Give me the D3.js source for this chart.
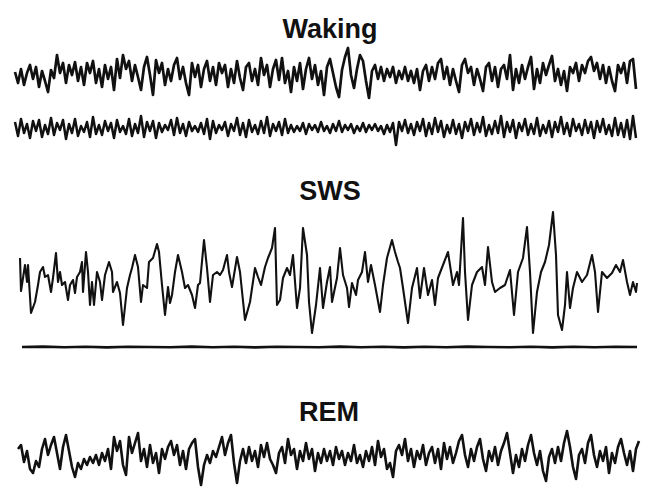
<!DOCTYPE html>
<html>
<head>
<meta charset="utf-8">
<script src="https://cdn.jsdelivr.net/npm/d3@7"></script>
<style>
  body { margin: 0; background: #fff; }
  .stateLabel { font-family: "Liberation Sans", Arial, sans-serif; font-weight: bold; font-size: 27px; fill: #111; }
  .trace { fill: none; stroke: #111; stroke-linejoin: round; }
</style>
</head>
<body>
<div id="chart"></div>
<script>
// Set width and height for SVG object
var svgWidth = 648;
var svgHeight = 492;

// State labels
var stateLabels = ["Waking", "SWS", "REM"];

// Waking EEG, evenly sampled (uV, up is positive)
var wakeEEG = [3, -8, 6, -10, 2, 10, -4, 8, -12, 4, -6, -17, 5, -3, 20, 2, 12, -8, 10, 0,
  13, -6, 8, -10, 12, 2, 14, -8, 6, -12, 10, -4, 8, -15, 16, -3, 20, 6, 14, -6,
  10, -2, -15, 8, 18, 0, -20, 15, 2, 12, -10, 6, -6, 10, 17, -4, 8, -8, -20, 12,
  -2, 10, -12, 6, 14, -6, 8, -10, 12, 2, 10, -12, 6, -8, 14, -3, -15, 8, 12, -6,
  6, -10, 17, 0, 10, -12, 6, 15, -5, 17, -8, 4, -17, 8, -6, 12, -14, 6, 17, -4,
  10, -10, 4, -20, 8, 16, 2, -12, -22, 5, 18, 27, 0, -13, 6, 20, 14, -6, -23, 4,
  10, -4, 8, -6, 6, -2, 8, -8, 4, -4, 8, -6, 4, -8, 6, -15, 4, 10, -6, 8,
  -4, 12, 16, -4, 8, -10, 6, -6, -17, 10, 16, 2, 8, -10, 6, -4, -16, 8, 12, -6,
  8, -12, 6, 10, -4, 20, -15, 6, -8, 10, -4, 8, 18, -14, 6, -8, 12, 0, 10, 19,
  -6, 6, -10, 4, -16, 8, 2, 12, -6, 10, 2, 14, 18, 4, 12, -4, 10, -8, 8, -6,
  -16, 10, 2, 12, -8, 14, 16, -14];

// Waking EMG, evenly sampled
var wakeEMG = [6, -8, 9, -5, 4, -10, 7, -3, 8, -9, 3, -6, 10, -7, 5, -2, 8, -11, 4, -5,
  9, -8, 2, -4, 6, -9, 11, -6, 3, -7, 7, -3, 5, -10, 8, -4, 2, -6, 9, -8,
  4, -5, 12, -9, 6, -3, 7, -10, 5, -4, 3, -2, 8, -7, 10, -5, 4, -8, 6, -3,
  2, -4, 5, -6, 9, -11, 7, -5, 3, -2, 6, -8, 4, -3, 10, -7, 5, -9, 8, -4,
  3, -6, 7, -5, 11, -8, 4, -3, 6, -7, 9, -5, 3, -4, 2, -3, 5, -6, 4, -2,
  3, -4, 6, -3, 2, -5, 4, -3, 7, -4, 3, -2, 4, -5, 2, -3, 5, -4, 3, -2,
  4, -3, 2, -6, 3, -4, 5, -17, 6, -3, 8, -5, 4, -7, 6, -3, 9, -8, 5, -6,
  10, -4, 7, -9, 3, -5, 8, -6, 4, -10, 6, -3, 9, -7, 5, -4, 11, -8, 3, -6,
  7, -5, 12, -9, 6, -4, 8, -10, 5, -3, 9, -7, 4, -6, 10, -8, 3, -5, 7, -9,
  6, -4, 11, -6, 5, -8, 9, -3, 4, -7, 8, -5, 6, -10, 7, -4, 9, -6, 3, -8,
  10, -7, 5, -9, 8, -11, 12, -10];

// SWS EEG as [time, uV] pairs
var swsPoints = [[0, 17], [1, -16], [5, 10], [7, -7], [8, 10], [11, -38], [15, -27], [18, -10], [20, 3], [23, 8],
  [25, -2], [28, 0], [31, -17], [33, -3], [36, 22], [38, -7], [40, 3], [42, -10], [45, -7], [48, -25],
  [50, -10], [53, -5], [55, -18], [57, -2], [60, 3], [62, 13], [63, -17], [66, 23], [68, 3], [70, -30],
  [72, -7], [74, -30], [77, 3], [80, -7], [82, -25], [85, 0], [89, 13], [92, 3], [93, -17], [97, -7],
  [100, -18], [103, -50], [107, -13], [110, 0], [112, 7], [115, 20], [118, 8], [121, -27], [123, -10], [127, -13],
  [129, 13], [133, 17], [137, 31], [139, 23], [142, -10], [145, -40], [148, -12], [150, -28], [152, -20], [155, 3],
  [158, 20], [162, 3], [165, -13], [168, -10], [172, -20], [175, -33], [178, -10], [180, -8], [184, 35], [187, 7],
  [190, -27], [193, 0], [197, 3], [200, 0], [203, 5], [207, 20], [209, 3], [212, -12], [217, 18], [220, 3],
  [225, -45], [230, -27], [235, 7], [238, -2], [241, -10], [245, 8], [248, 17], [252, 27], [255, 47], [257, -30],
  [260, -25], [263, -3], [267, 7], [270, 0], [273, 20], [277, -33], [280, -13], [283, 47], [287, 20], [289, -27],
  [292, -58], [296, -30], [300, 7], [303, -33], [307, -7], [310, 8], [312, -27], [317, -3], [320, 27], [323, 0],
  [327, -13], [329, -32], [332, -8], [336, -20], [338, -5], [342, 3], [345, 23], [348, -7], [351, 10], [355, -10],
  [360, -37], [363, -10], [367, 17], [372, 35], [375, 23], [378, 13], [380, 7], [383, -13], [388, -48], [392, -13],
  [397, 7], [400, -23], [404, 7], [408, -20], [412, -5], [415, -30], [418, -3], [423, 10], [428, 23], [433, -10],
  [437, 3], [439, -10], [443, 57], [445, 3], [448, -45], [452, -10], [457, 3], [462, 8], [465, -10], [468, 28],
  [472, -7], [475, -17], [480, -13], [485, -10], [490, 5], [494, -40], [498, 3], [503, 17], [507, 48], [510, 3],
  [513, -58], [517, -17], [521, 3], [525, 13], [529, 30], [533, 63], [536, 20], [538, -40], [542, -55], [545, -30],
  [547, 3], [550, -33], [553, -13], [557, 3], [562, -7], [567, 0], [572, 20], [575, 3], [578, -37], [582, 3],
  [587, -3], [592, 2], [596, 10], [600, 3], [603, 15], [607, -7], [610, -20], [613, -7], [616, -17], [617, -8]];

// SWS EMG, nearly flat
var swsEMG = [0, 0.4, -0.3, 0.2, -0.4, 0.3, 0, -0.3, 0.4, -0.2, 0.3, -0.4, 0.2, 0, -0.3, 0.4,
  -0.2, 0.3, -0.4, 0.2, -0.3, 0.4, 0, -0.2, 0.3, -0.4, 0.2, -0.3, 0.3, 0];

// REM EEG, evenly sampled
var remEEG = [8, 12, -5, 6, -12, -16, -4, -10, 8, 18, 2, 12, 20, 4, -12, 10, 22, 6, -10, -20,
  -6, -12, -2, -8, 0, -6, 2, -8, 4, -4, 8, -12, 20, 6, 16, -8, -18, 20, 4, 14,
  24, -4, 8, -10, 12, -6, 4, -16, 8, -2, 10, 16, 2, 12, -8, 6, -12, 8, 14, 18,
  -10, -28, -8, 2, -6, 6, 0, 10, 20, 2, 14, 22, -6, -26, -4, 8, -6, 10, -4, 6,
  -10, 12, 0, 14, -2, -8, -16, 4, 10, -6, 18, 2, 8, -12, 6, -4, 14, -2, 8, -14,
  4, -6, 8, -4, 6, -8, 10, -2, 6, -8, 4, -4, 12, -6, 2, -10, 6, -4, 10, -8,
  16, 0, 8, -12, -6, -20, 6, 12, 2, 18, -4, 8, -10, 6, -2, 12, -8, 4, 10, -6,
  8, -12, 14, -2, 10, -6, 4, 16, 22, 2, -10, 8, -4, 10, 18, -2, -14, 6, -4, 10,
  -8, 6, 14, 24, 4, -16, 2, -10, 8, -4, 12, 22, 4, -8, 6, -14, -24, 0, 8, -6,
  10, -4, 14, 26, 10, -10, -22, 2, 8, -6, 14, 22, 2, -10, 6, -4, 10, -16, 4, -6,
  10, 18, 4, -8, 6, -14, 8, 16];

var svg = d3.select("#chart")
  .append("svg")
  .attr("width", svgWidth)
  .attr("height", svgHeight);

// State titles
var titleX = [330, 330, 329];
var titleY = [38, 200, 421];
svg.selectAll(".stateLabel")
  .data(stateLabels)
  .enter()
  .append("text")
  .attr("class", "stateLabel")
  .attr("x", (d, i) => titleX[i])
  .attr("y", (d, i) => titleY[i])
  .attr("text-anchor", "middle")
  .text(d => d);

// Waking EEG
var xWake = d3.scaleLinear().domain([0, wakeEEG.length - 1]).range([15, 636]);
var yWake = d3.scaleLinear().domain([-25, 25]).range([100, 50]);
svg.append("path")
  .attr("class", "trace")
  .attr("stroke-width", 2.7)
  .attr("d", d3.line().x((d, i) => xWake(i)).y(d => yWake(d))(wakeEEG));

// Waking EMG
var xEmg = d3.scaleLinear().domain([0, wakeEMG.length - 1]).range([15, 636]);
var yEmg = d3.scaleLinear().domain([-15, 15]).range([143, 113]);
svg.append("path")
  .attr("class", "trace")
  .attr("stroke-width", 2.5)
  .attr("d", d3.line().x((d, i) => xEmg(i)).y(d => yEmg(d))(wakeEMG));

// SWS EEG
var xSws = d3.scaleLinear().domain([0, 617]).range([20, 637]);
var ySws = d3.scaleLinear().domain([-60, 65]).range([335, 210]);
svg.append("path")
  .attr("class", "trace")
  .attr("stroke-width", 2.1)
  .attr("d", d3.line().x(d => xSws(d[0])).y(d => ySws(d[1]))(swsPoints));

// SWS EMG
var xSwsEmg = d3.scaleLinear().domain([0, swsEMG.length - 1]).range([22, 637]);
var ySwsEmg = d3.scaleLinear().domain([-15, 15]).range([362, 332]);
svg.append("path")
  .attr("class", "trace")
  .attr("stroke-width", 2.6)
  .attr("d", d3.line().x((d, i) => xSwsEmg(i)).y(d => ySwsEmg(d))(swsEMG));

// REM EEG
var xRem = d3.scaleLinear().domain([0, remEEG.length - 1]).range([18, 639]);
var yRem = d3.scaleLinear().domain([-30, 30]).range([487, 427]);
svg.append("path")
  .attr("class", "trace")
  .attr("stroke-width", 2.6)
  .attr("d", d3.line().x((d, i) => xRem(i)).y(d => yRem(d))(remEEG));
</script>
</body>
</html>
